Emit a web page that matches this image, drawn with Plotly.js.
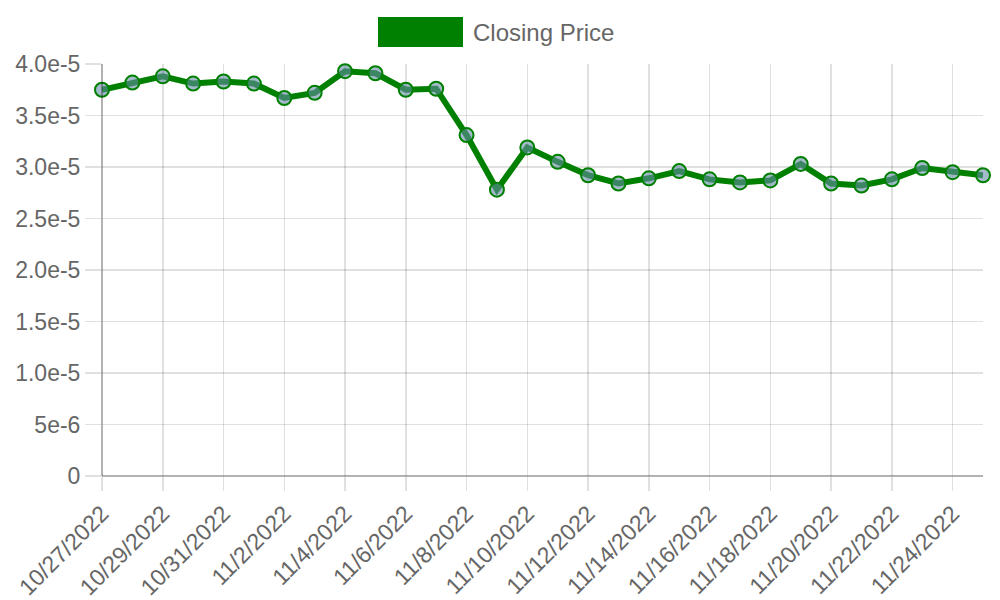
<!DOCTYPE html>
<html>
<head>
<meta charset="utf-8">
<script src="https://cdn.plot.ly/plotly-3.0.1.min.js"></script>
<style>html,body{margin:0;padding:0;background:#fff}#chart{width:1000px;height:600px}</style>
</head>
<body>
<div id="chart"></div>
<script>
const dates = ["2022-10-27","2022-10-28","2022-10-29","2022-10-30","2022-10-31","2022-11-01","2022-11-02","2022-11-03","2022-11-04","2022-11-05","2022-11-06","2022-11-07","2022-11-08","2022-11-09","2022-11-10","2022-11-11","2022-11-12","2022-11-13","2022-11-14","2022-11-15","2022-11-16","2022-11-17","2022-11-18","2022-11-19","2022-11-20","2022-11-21","2022-11-22","2022-11-23","2022-11-24","2022-11-25"];
const closingPrice = [3.75e-5,3.82e-5,3.88e-5,3.81e-5,3.83e-5,3.81e-5,3.67e-5,3.72e-5,3.93e-5,3.91e-5,3.75e-5,3.76e-5,3.31e-5,2.78e-5,3.19e-5,3.05e-5,2.92e-5,2.84e-5,2.89e-5,2.96e-5,2.88e-5,2.85e-5,2.87e-5,3.03e-5,2.84e-5,2.82e-5,2.88e-5,2.99e-5,2.95e-5,2.92e-5];
const seriesName = "Closing Price";
const yTickVals = [0,5e-6,1e-5,1.5e-5,2e-5,2.5e-5,3e-5,3.5e-5,4e-5];
const yTickText = ["0","5e-6","1.0e-5","1.5e-5","2.0e-5","2.5e-5","3.0e-5","3.5e-5","4.0e-5"];

const font = {family: "Liberation Sans, Arial, sans-serif", size: 23, color: "#666"};
const grid = "rgba(0,0,0,0.12)";

const trace = {
  x: dates, y: closingPrice, type: "scatter", mode: "lines+markers", name: seriesName,
  line: {color: "green", width: 6},
  marker: {size: 14, color: "rgba(100,140,165,0.6)", line: {color: "green", width: 2}},
  showlegend: false, cliponaxis: false
};

const layout = {
  width: 1000, height: 600,
  margin: {l: 102, r: 17, t: 64, b: 124},
  paper_bgcolor: "#fff", plot_bgcolor: "#fff",
  font: font,
  showlegend: false,
  xaxis: {
    type: "date", range: [dates[0], dates[dates.length-1]],
    tick0: dates[0], dtick: 2*86400000, tickformat: "%-m/%-d/%Y",
    tickangle: -45, ticks: "outside", ticklen: 14, tickcolor: grid, tickwidth: 1.5,
    showgrid: true, gridcolor: grid, gridwidth: 1.5,
    showline: false, zeroline: false, tickfont: font
  },
  yaxis: {
    range: [0, 4e-5], tickvals: yTickVals, ticktext: yTickText,
    ticks: "outside", ticklen: 16, tickcolor: grid, tickwidth: 1.5,
    showgrid: true, gridcolor: grid, gridwidth: 1.5, zeroline: false, showline: false, tickfont: font
  },
  shapes: [
    {type: "line", xref: "paper", yref: "paper", x0: 0, x1: 0, y0: 0, y1: 1, line: {color: "rgba(0,0,0,0.3)", width: 2}},
    {type: "line", xref: "paper", yref: "paper", x0: 0, x1: 1, y0: 0, y1: 0, line: {color: "rgba(0,0,0,0.3)", width: 2}},
    {type: "rect", xref: "paper", yref: "paper", x0: (378-102)/881, x1: (463-102)/881, y0: (476-47)/412, y1: (476-17)/412, fillcolor: "green", line: {width: 0}}
  ],
  annotations: [
    {xref: "paper", yref: "paper", x: (471-102)/881, y: (476-32)/412, xanchor: "left", yanchor: "middle", text: seriesName, showarrow: false, font: {family: font.family, size: 24, color: "#666"}}
  ]
};

Plotly.newPlot("chart", [trace], layout, {displayModeBar: false, staticPlot: true});
</script>
</body>
</html>
